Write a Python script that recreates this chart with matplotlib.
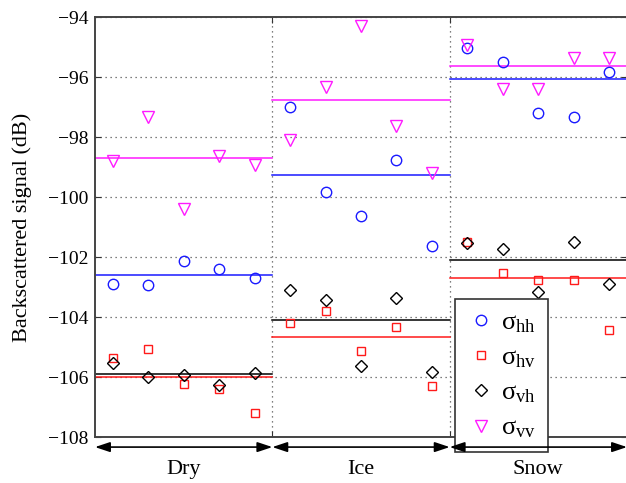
import numpy as np
import matplotlib
matplotlib.use("Agg")
from matplotlib import pyplot as plt

plt.rcParams['font.family'] = ['Liberation Serif', 'DejaVu Serif']
plt.rcParams['mathtext.fontset'] = 'custom'
plt.rcParams['mathtext.rm'] = 'Liberation Serif'
plt.rcParams['mathtext.it'] = 'Liberation Serif:italic'

groups = ['Dry', 'Ice', 'Snow']

# 5 measurements per surface, in dB
hh = [-102.90, -102.94, -102.14, -102.41, -102.70,
      -97.01, -99.82, -100.62, -98.78, -101.63,
      -95.04, -95.49, -97.19, -97.33, -95.82]
hv = [-105.38, -105.07, -106.22, -106.41, -107.20,
      -104.21, -103.80, -105.13, -104.32, -106.30,
      -101.50, -102.52, -102.77, -102.77, -104.43]
vh = [-105.52, -106.01, -105.92, -106.26, -105.88,
      -103.10, -103.43, -105.63, -103.36, -105.84,
      -101.54, -101.74, -103.16, -101.49, -102.90]
vv = [-98.80, -97.34, -100.40, -98.63, -98.93,
      -98.10, -96.32, -94.30, -97.63, -99.21,
      -94.93, -96.40, -96.40, -95.36, -95.36]

series = [
    (hh, 'o', '#1a1aff', 'σ$_{\\mathrm{hh}}$'),
    (hv, 's', '#ff1a1a', 'σ$_{\\mathrm{hv}}$'),
    (vh, 'D', 'black', 'σ$_{\\mathrm{vh}}$'),
    (vv, 'v', '#ff1aff', 'σ$_{\\mathrm{vv}}$'),
]

n = 5
fig = plt.figure(figsize=(6.26, 4.83), dpi=100)
ax = fig.add_axes([95 / 626, 46 / 483, 532 / 626, 420 / 483])

x = np.arange(len(groups) * n) + 0.5
for vals, mk, col, lab in series:
    vals = np.array(vals)
    ms = 7.5 if mk == 'o' else (6 if mk == 's' else (6.5 if mk == 'D' else 8.5))
    ax.plot(x, vals, linestyle='none', marker=mk, markersize=ms, mfc='none',
            mec=col, mew=1.0, label=lab, zorder=3)
    # mean level per surface, averaged in linear power
    for g in range(len(groups)):
        seg = vals[g * n:(g + 1) * n]
        m = 10 * np.log10(np.mean(10 ** (seg / 10)))
        ax.plot([g * n, (g + 1) * n], [m, m], color=col, lw=1.1, zorder=2)

ax.set_xlim(0, len(groups) * n)
ax.set_ylim(-108, -94)
ax.set_yticks(np.arange(-108, -93, 2))
ax.set_yticklabels(['\u2212%d' % abs(t) for t in range(-108, -93, 2)])
ax.set_xticks([5, 10])
ax.set_xticklabels([])
ax.tick_params(axis='y', direction='in', length=4, width=0.8, right=True,
               labelsize=14, pad=5, color='#333333')
ax.tick_params(axis='x', direction='in', length=4, width=0.8, top=True,
               color='#333333')
ax.grid(True, linestyle=(0, (1, 3)), color='#555555', lw=0.9)
for s in ax.spines.values():
    s.set_color('#444444')
    s.set_linewidth(1.4)

ax.set_ylabel('Backscattered signal (dB)', fontsize=16, labelpad=11)

tr = ax.get_xaxis_transform()
for g, name in enumerate(groups):
    ax.annotate('', xy=(g * n, -0.024), xytext=((g + 1) * n, -0.024),
                xycoords=tr, textcoords=tr, annotation_clip=False,
                arrowprops=dict(arrowstyle='<|-|>,head_length=0.9,head_width=0.3',
                                color='black', lw=1.2, shrinkA=0, shrinkB=0),
                zorder=6)
    ax.text(g * n + n / 2, -0.077, name, transform=tr, ha='center', va='center',
            fontsize=16)

leg = ax.legend(loc='upper left', bbox_to_anchor=(455 / 626, 1 - 299 / 483),
                bbox_transform=fig.transFigure, borderaxespad=0, fontsize=19,
                frameon=True, fancybox=False, framealpha=1, edgecolor='#333333',
                handletextpad=0.2, labelspacing=0.42, borderpad=0.45,
                handlelength=1.1)
leg.get_frame().set_linewidth(1.2)
leg.set_zorder(5)

fig.savefig('out.png', dpi=100)
